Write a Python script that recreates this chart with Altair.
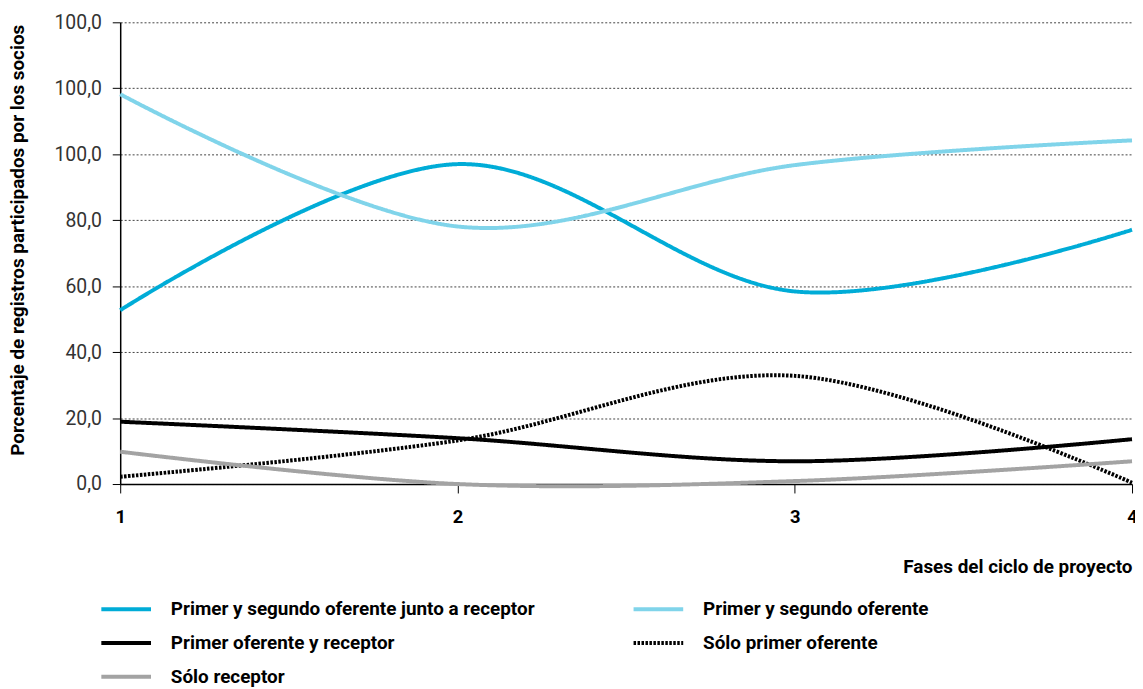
import altair as alt
import pandas as pd

fases = [1, 2, 3, 4]
series_names = [
    "Primer y segundo oferente junto a receptor",
    "Primer y segundo oferente",
    "Primer oferente y receptor",
    "Sólo primer oferente",
    "Sólo receptor",
]
v_junto = [52.7, 97.0, 58.4, 77.1]
v_primer_segundo = [118.2, 78.1, 96.7, 104.2]
v_primer_receptor = [18.9, 13.9, 6.9, 13.6]
v_solo_primer = [2.2, 13.2, 32.8, 0.4]
v_solo_receptor = [9.8, 0.0, 0.9, 6.9]

colors = ["#00ACD7", "#80D4EA", "#000000", "#000000", "#A3A3A3"]
dashes = [[1, 0], [1, 0], [1, 0], [2.5, 1.5], [1, 0]]
widths = [4, 4, 4, 4, 2.5]

all_values = [v_junto, v_primer_segundo, v_primer_receptor, v_solo_primer, v_solo_receptor]
rows = []
for name, vals in zip(series_names, all_values):
    for f, v in zip(fases, vals):
        rows.append({"fase": f, "valor": v, "serie": name})
df = pd.DataFrame(rows)

FONT = "Roboto"

base = alt.Chart(df)

lines = base.mark_line(interpolate="cardinal", clip=False).encode(
    x=alt.X(
        "fase:Q",
        scale=alt.Scale(domain=[1, 4], nice=False, zero=False),
        axis=alt.Axis(
            values=fases,
            format="d",
            title="Fases del ciclo de proyecto",
            titleAnchor="end",
            titleFont=FONT,
            titleFontSize=19,
            titleFontWeight="bold",
            titleColor="#000",
            titlePadding=32,
            labelFont=FONT,
            labelFontSize=18.5,
            labelFontWeight="bold",
            labelColor="#000",
            labelPadding=15,
            tickSize=9,
            tickColor="#000",
            domainColor="#000",
            domainWidth=1.5,
            grid=False,
            labelFlush=False,
        ),
    ),
    y=alt.Y(
        "valor:Q",
        scale=alt.Scale(domain=[0, 140], nice=False),
        axis=alt.Axis(
            values=[0, 20, 40, 60, 80, 100, 120, 140],
            labelExpr="datum.value > 100 ? '100,0' : replace(format(datum.value, '.1f'), '.', ',')",
            title="Porcentaje de registros participados por los socios",
            titleFont=FONT,
            titleFontSize=19,
            titleFontWeight="bold",
            titleColor="#000",
            titlePadding=27,
            titleY=219,
            labelFont=FONT,
            labelFontSize=19.5,
            labelFontWeight="normal",
            labelColor="#333",
            labelPadding=11,
            tickSize=8,
            tickColor="#000",
            domainColor="#000",
            domainWidth=1.5,
            grid=True,
            gridColor="#444",
            gridDash=[2, 2],
            gridWidth=1,
        ),
    ),
    color=alt.Color(
        "serie:N",
        sort=series_names,
        scale=alt.Scale(domain=series_names, range=colors),
        legend=alt.Legend(
            title=None,
            orient="none",
            direction="horizontal",
            legendX=-21,
            legendY=581,
            columns=2,
            symbolType="stroke",
            symbolSize=2500,
            clipHeight=20,
            labelFont=FONT,
            labelFontSize=19,
            labelFontWeight="bold",
            labelColor="#000",
            labelOffset=18,
            rowPadding=14,
            columnPadding=97,
            labelLimit=600,
        ),
    ),
    strokeDash=alt.StrokeDash(
        "serie:N",
        sort=series_names,
        scale=alt.Scale(domain=series_names, range=dashes),
    ),
    strokeWidth=alt.StrokeWidth(
        "serie:N",
        sort=series_names,
        scale=alt.Scale(domain=series_names, range=widths),
    ),
)

chart = lines.properties(
    width=1019,
    height=465,
    autosize="none",
    padding={"left": 113, "top": 12, "right": 3, "bottom": 203},
).configure_view(stroke=None)

chart.save("out.html", embed_options={"renderer": "svg", "actions": False})
